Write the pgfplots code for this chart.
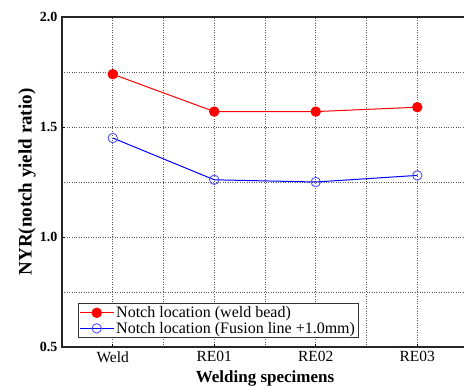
\documentclass[border=0pt]{standalone}
\usepackage{pgfplots}
\pgfplotsset{compat=1.18}
\usepackage{fontspec}
\setmainfont{Liberation Serif}
\definecolor{myred}{RGB}{255,0,0}
\definecolor{myblue}{RGB}{0,0,255}
\definecolor{mkblue}{RGB}{80,80,255}
\begin{document}
\begin{tikzpicture}
\begin{axis}[
  at={(62pt,39pt)}, anchor=south west,
  scale only axis, width=406pt, height=330pt,
  xmin=-0.5, xmax=3.5, ymin=0.5, ymax=2.0,
  xtick={0,1,2,3}, xticklabels={Weld,RE01,RE02,RE03},
  minor xtick={0.5,1.5,2.5},
  ytick={0.5,1.0,1.5,2.0},
  yticklabels={\textbf{0.5},\textbf{1.0},\textbf{1.5},\textbf{2.0}},
  minor ytick={0.75,1.25,1.75},
  grid=both,
  major grid style={dotted, black!65, line width=0.7pt},
  minor grid style={dotted, black!65, line width=0.7pt},
  axis line style={line width=1.2pt, black!85},
  tick style={black, line width=0.6pt},
  major tick length=3pt, minor tick length=0pt,
  tick align=inside,
  xtick pos=bottom, ytick pos=left,
  x tick label style={font=\fontsize{15.5}{18}\selectfont, yshift=-1pt},
  y tick label style={font=\fontsize{14}{16}\selectfont, xshift=-1pt},
  xlabel={\textbf{Welding specimens}},
  xlabel style={font=\fontsize{17}{20}\selectfont, at={(axis description cs:0.5,0)}, anchor=north, yshift=-20pt},
  ylabel={\textbf{NYR(notch yield ratio)}},
  ylabel style={font=\fontsize{19}{22}\selectfont, at={(axis description cs:-0.0862,0.5)}, anchor=center},
  legend style={at={(axis description cs:0.039,0.027)}, anchor=south west,
    font=\fontsize{16}{18}\selectfont, draw=black!80, line width=0.8pt,
    inner sep=1pt, row sep=-1pt, cells={anchor=west}},
  legend image code/.code={
    \draw[#1, mark repeat=2, mark phase=2] plot coordinates {(0pt,0pt) (17pt,0pt) (34pt,0pt)};},
]
\addplot[color=myred, line width=1pt, mark=*, mark size=4.7pt, mark options={fill=myred, draw=myred, solid}]
  coordinates {(0,1.74) (1,1.57) (2,1.57) (3,1.59)};
\addlegendentry{Notch location (weld bead)}
\addplot[color=myblue, line width=1pt, mark=o, mark size=4.7pt, mark options={fill=white, draw=mkblue, line width=0.9pt, solid}]
  coordinates {(0,1.45) (1,1.26) (2,1.25) (3,1.28)};
\addlegendentry{Notch location (Fusion line +1.0mm)}
\end{axis}
\pgfresetboundingbox
\path[use as bounding box] (0,0) rectangle (464pt,386pt);
\end{tikzpicture}
\end{document}
